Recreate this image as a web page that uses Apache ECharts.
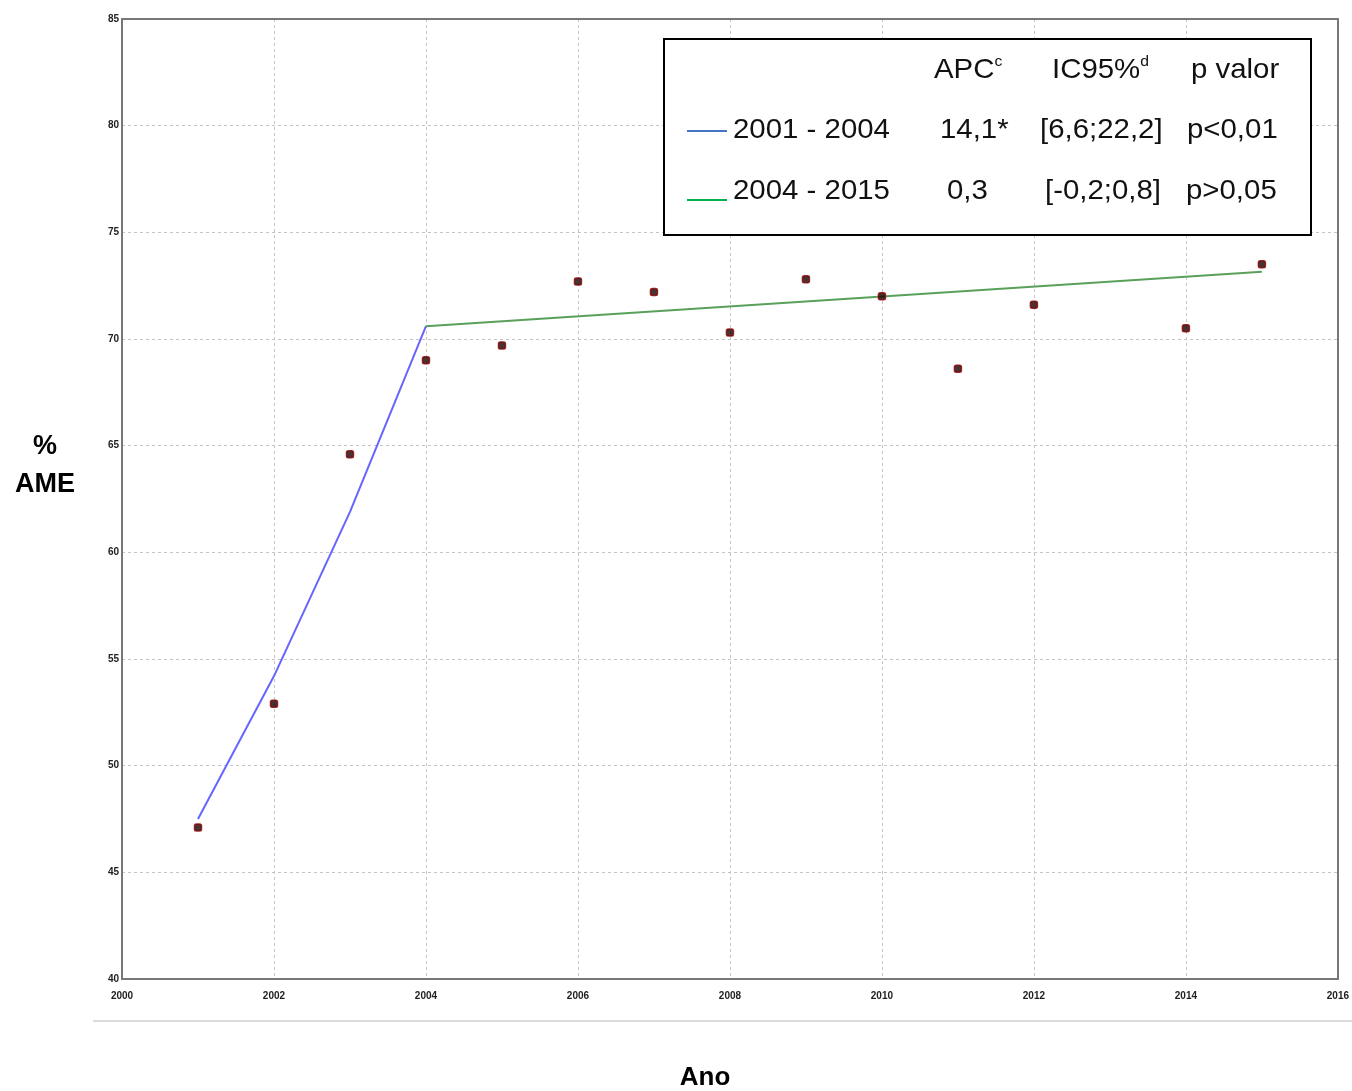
<!DOCTYPE html>
<html><head><meta charset="utf-8">
<script src="https://cdn.jsdelivr.net/npm/echarts@6/dist/echarts.min.js"></script>
<style>html,body{margin:0;padding:0;background:#fff}#c{width:1352px;height:1091px}</style>
</head><body><div id="c"></div>
<script>
const years = [2001,2002,2003,2004,2005,2006,2007,2008,2009,2010,2011,2012,2014,2015];
const observed = [47.1,52.9,64.6,69.0,69.7,72.7,72.2,70.3,72.8,72.0,68.6,71.6,70.5,73.5];
const seg1Years = [2001,2002,2003,2004];
const seg1Values = [47.5,54.2,61.9,70.6];
const seg2Years = [2004,2015];
const seg2Values = [70.6,73.15];
const xTicks = [2000,2002,2004,2006,2008,2010,2012,2014,2016];
const yTicks = [40,45,50,55,60,65,70,75,80,85];
const legendHeader = ['APC', 'IC95%', 'p valor'];
const legendRows = [
  ['2001 - 2004','14,1*','[6,6;22,2]','p<0,01'],
  ['2004 - 2015','0,3','[-0,2;0,8]','p>0,05']
];

const chart = echarts.init(document.getElementById('c'), null, {renderer:'canvas'});
const F = 'Liberation Sans, Arial, sans-serif';
const SX = 1.05;
function txt(x, y, text){
  return {type:'text', x:x, y:y, scaleX:SX, z:101,
    style:{text:text, fontFamily:F, fontSize:28, fill:'#111', textVerticalAlign:'middle'}};
}
function supTxt(x, y, main, sup){
  return {type:'text', x:x, y:y, scaleX:SX, z:101,
    style:{text:'{a|'+main+'}{s|'+sup+'}', fontFamily:F, textVerticalAlign:'middle',
      rich:{a:{fontFamily:F,fontSize:28,fill:'#111'}, s:{fontFamily:F,fontSize:15,fill:'#111',verticalAlign:'top',padding:[0,0,16,0]}}}};
}
const rowY = [130, 191];
const colX = [[733,940,1040,1187],[733,947,1045,1186]];
const graphics = [
  {type:'rect', shape:{x:664,y:39,width:647,height:196}, style:{fill:'#fff', stroke:'#000', lineWidth:2}, z:100},
  supTxt(934, 70, legendHeader[0], 'c'),
  supTxt(1052, 70, legendHeader[1], 'd'),
  txt(1191, 70, legendHeader[2]),
  {type:'line', shape:{x1:687,y1:131,x2:727,y2:131}, style:{stroke:'#4472C4', lineWidth:2}, z:101},
  {type:'line', shape:{x1:687,y1:200,x2:727,y2:200}, style:{stroke:'#00B050', lineWidth:2}, z:101},
  {type:'line', shape:{x1:93,y1:1021,x2:1352,y2:1021}, style:{stroke:'#d0d0d0', lineWidth:1.5}},
  {type:'text', x:705, y:1078, style:{text:'Ano', fontFamily:F, fontSize:26, fontWeight:'bold', fill:'#000', textAlign:'center', textVerticalAlign:'middle'}},
  {type:'text', x:45, y:447, style:{text:'%', fontFamily:F, fontSize:27, fontWeight:'bold', fill:'#000', textAlign:'center', textVerticalAlign:'middle'}},
  {type:'text', x:45, y:485, style:{text:'AME', fontFamily:F, fontSize:27, fontWeight:'bold', fill:'#000', textAlign:'center', textVerticalAlign:'middle'}}
];
legendRows.forEach((row, r) => row.forEach((t, c) => graphics.push(txt(colX[r][c], rowY[r], t))));

const frameAxis = {show:true, onZero:false, lineStyle:{color:'#777', width:2}};
chart.setOption({
  animation:false,
  backgroundColor:'#fff',
  grid:{left:122, right:14, top:19, bottom:112},
  xAxis:[{type:'value', min:xTicks[0], max:xTicks[xTicks.length-1], interval:2,
    axisLine:frameAxis,
    axisTick:{show:false},
    axisLabel:{margin:12, color:'#222', fontFamily:F, fontSize:10, fontWeight:'bold', formatter:v=>String(v), showMinLabel:true, showMaxLabel:true},
    splitLine:{show:true, lineStyle:{color:'#c4c4c4', type:[3,3], width:1}}},
    {type:'value', position:'top', min:xTicks[0], max:xTicks[xTicks.length-1], interval:2,
    axisLine:frameAxis, axisTick:{show:false}, axisLabel:{show:false}, splitLine:{show:false}}],
  yAxis:[{type:'value', min:yTicks[0], max:yTicks[yTicks.length-1], interval:5,
    axisLine:frameAxis,
    axisTick:{show:false},
    axisLabel:{margin:3, color:'#222', fontFamily:F, fontSize:10, fontWeight:'bold'},
    splitLine:{show:true, lineStyle:{color:'#c4c4c4', type:[3,3], width:1}}},
    {type:'value', position:'right', min:yTicks[0], max:yTicks[yTicks.length-1], interval:5,
    axisLine:frameAxis, axisTick:{show:false}, axisLabel:{show:false}, splitLine:{show:false}}],
  series:[
    {type:'line', data:seg1Years.map((y,i)=>[y,seg1Values[i]]), symbol:'none', lineStyle:{color:'#6666ff', width:2}, z:3},
    {type:'line', data:seg2Years.map((y,i)=>[y,seg2Values[i]]), symbol:'none', lineStyle:{color:'#5aa05a', width:2}, z:3},
    {type:'scatter', data:years.map((y,i)=>[y,observed[i]]), symbol:'roundRect', symbolSize:7, itemStyle:{color:'#1a0000', borderColor:'#8b0000', borderWidth:1.5}, z:4}
  ],
  graphic:graphics
});
</script></body></html>
